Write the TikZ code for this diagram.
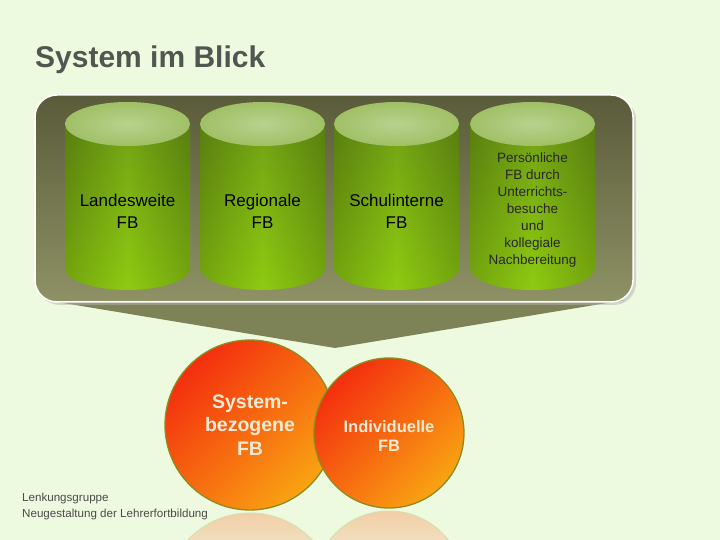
\documentclass[tikz,border=0pt]{standalone}
\usepackage{fontspec}
\setmainfont{Liberation Sans}
\definecolor{bg}{HTML}{EEFAE0}
\definecolor{titlegray}{HTML}{525650}
\definecolor{boxtop}{HTML}{5A5B3A}
\definecolor{boxbot}{HTML}{8E9265}
\definecolor{funnelc}{HTML}{7E8357}
\definecolor{cyltop}{HTML}{6C9A14}
\definecolor{cylbot}{HTML}{8FCB12}
\definecolor{ellout}{HTML}{A0C066}
\definecolor{ellin}{HTML}{B8D28E}
\definecolor{circred}{HTML}{F42E0E}
\definecolor{circorange}{HTML}{F9A412}
\definecolor{circborder}{HTML}{8C8C1E}
\definecolor{circtext}{HTML}{FAEBD7}
\definecolor{reflc}{HTML}{F3C8A0}
\definecolor{footgray}{HTML}{4A4A4A}
\tikzset{
  cyltext/.style={align=center, text=black, font=\fontsize{17}{22}\selectfont, inner sep=0},
  smalltext/.style={align=center, text=black!85, font=\fontsize{13.5}{17}\selectfont, inner sep=0},
  ball/.style={circle, draw=circborder, line width=1.3pt, inner sep=0,
    top color=circred, bottom color=circorange, shading angle=45,
    text=circtext, align=center},
}
\begin{document}
\begin{tikzpicture}[x=1pt,y=1pt]
\useasboundingbox (0,0) rectangle (720,540);
\fill[bg] (0,0) rectangle (720,540);
% title
\node[anchor=west, font=\fontsize{30}{34}\selectfont\bfseries, text=titlegray, inner sep=0] (title) at (35,480) {System im Blick};
% funnel
\fill[funnelc] (45,240) -- (625,240) -- (335,192) -- cycle;
% container shadow and box
\fill[black!30, opacity=0.5, rounded corners=22] (38,235) rectangle (636,442);
\node[draw=white, line width=1.5pt, rounded corners=22, minimum width=598, minimum height=207,
  top color=boxtop, bottom color=boxbot, inner sep=0] (box) at (334,341.5) {};
% cylinders
\foreach \cx in {127.5,262.5,396.5,532.5}{
  \shade[top color=cyltop, bottom color=cylbot]
    (\cx-62.5,416) -- (\cx-62.5,272) arc[start angle=180, end angle=360, x radius=62.5, y radius=22]
    -- (\cx+62.5,416) -- cycle;
  \shade[left color=black, right color=black, middle color=cylbot, opacity=0.18]
    (\cx-62.5,416) -- (\cx-62.5,272) arc[start angle=180, end angle=360, x radius=62.5, y radius=22]
    -- (\cx+62.5,416) -- cycle;
  \shade[inner color=ellin, outer color=ellout] (\cx,416) ellipse[x radius=62.5, y radius=22];
}
\node[cyltext] (c1) at (127.5,329) {Landesweite\\FB};
\node[cyltext] (c2) at (262.5,329) {Regionale\\FB};
\node[cyltext] (c3) at (396.5,329) {Schulinterne\\FB};
\node[smalltext] (c4) at (532.5,330) {Persönliche\\FB durch\\Unterrichts-\\besuche\\und\\kollegiale\\Nachbereitung};
% reflections
\begin{scope}
  \clip (250,-58) circle (85);
  \shade[top color=reflc!90!bg, bottom color=reflc!55!bg] (160,0) rectangle (340,28);
\end{scope}
\draw[circborder!25!bg, line width=1pt] (250,-58) circle (85);
\begin{scope}
  \clip (389,-46) circle (75);
  \shade[top color=reflc!90!bg, bottom color=reflc!55!bg] (310,0) rectangle (470,30);
\end{scope}
\draw[circborder!25!bg, line width=1pt] (389,-46) circle (75);
% circles
\node[ball, minimum size=170, font=\fontsize{19.5}{23.5}\selectfont\bfseries] (sys) at (250,115) {System-\\bezogene\\FB};
\node[ball, minimum size=150] (ind) at (389,107) {};
\node[align=center, text=circtext, inner sep=0, font=\fontsize{16.5}{19}\selectfont\bfseries] (indtext) at (389,104) {Individuelle\\FB};
% footer
\node[anchor=north west, align=left, text=footgray, font=\fontsize{11.6}{16}\selectfont, inner sep=0] (foot) at (22,47) {Lenkungsgruppe\\Neugestaltung der Lehrerfortbildung};
\end{tikzpicture}
\end{document}
